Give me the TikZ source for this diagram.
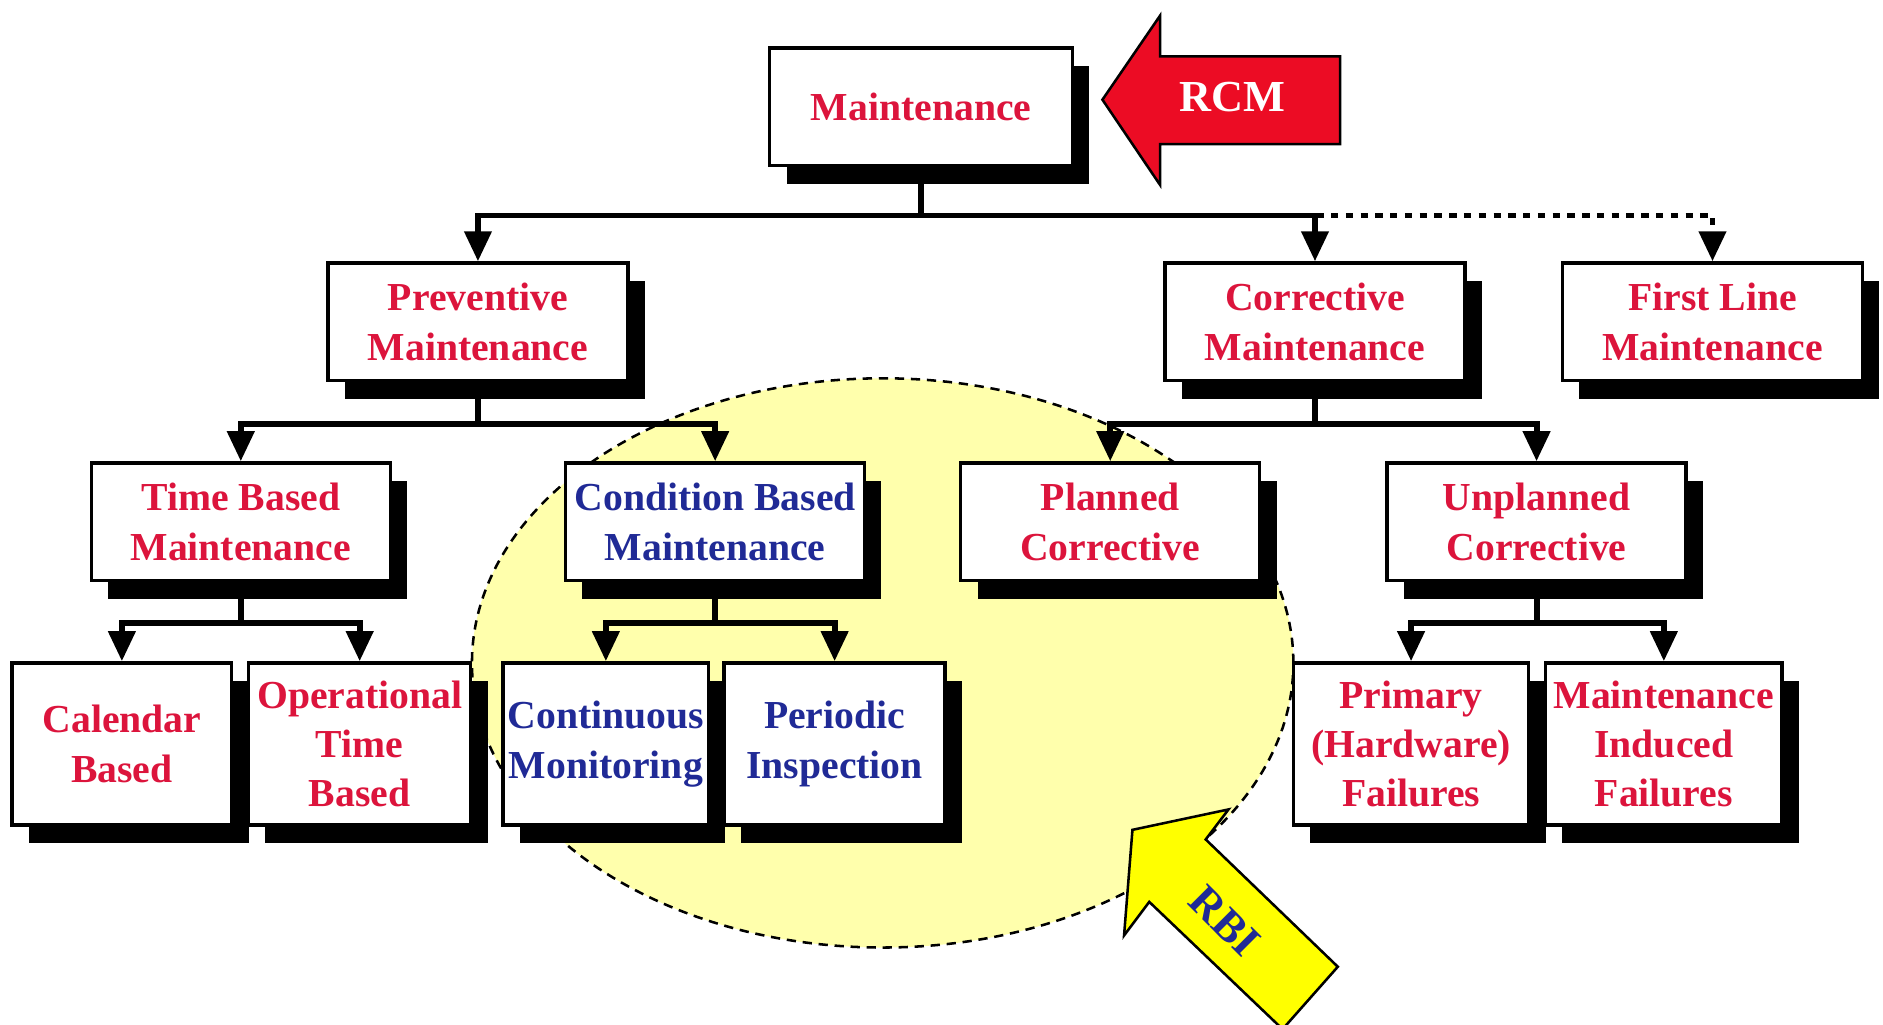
\documentclass[tikz,border=0pt]{standalone}
\usepackage{fontspec}
\setmainfont{Liberation Serif}
\usepackage{tikz}
\usetikzlibrary{arrows.meta, shadows}

\definecolor{maintred}{RGB}{220,20,60}
\definecolor{condblue}{RGB}{32,42,150}
\definecolor{rcmred}{RGB}{236,12,36}
\definecolor{rbiyellow}{RGB}{255,255,0}
\definecolor{zonefill}{RGB}{255,255,172}

\tikzset{
	mbox/.style={draw, line width=0.8pt, fill=white, align=center, inner sep=1pt,
		font=\bfseries\fontsize{9.4}{11.7}\selectfont, text=maintred,
		general shadow={fill=black, shadow xshift=0.14cm, shadow yshift=-0.15cm}},
	upper/.style={mbox, minimum width=2.50cm, minimum height=0.98cm},
	leaf/.style={mbox, minimum height=1.35cm},
	cbm/.style={text=condblue},
	link/.style={line width=1.4pt, -{Triangle[width=0.22cm, length=0.25cm]}},
	optional/.style={link, dash pattern=on 1.75pt off 1.75pt},
	bigarrow/.style={draw, line width=0.6pt, line join=miter},
	arrowlabel/.style={font=\bfseries\fontsize{10.5}{12}\selectfont, inner sep=0pt}
}

\begin{document}
\begin{tikzpicture}
	\useasboundingbox (0,0) rectangle (15.68,8.53);
	\clip (0,0) rectangle (15.68,8.53);
	% Zone, boxes, links and arrows:
	\draw[fill=zonefill, line width=0.6pt, dash pattern=on 2.2pt off 1.6pt] (7.35,3.01) ellipse [x radius=3.42, y radius=2.37];
	\node[upper, minimum width=2.52cm] (maint) at (7.67,7.64) {Maintenance};
	\node[upper] (prev) at (3.98,5.85) {Preventive\\Maintenance};
	\node[upper] (corr) at (10.95,5.85) {Corrective\\Maintenance};
	\node[upper] (first) at (14.26,5.85) {First Line\\Maintenance};
	\node[upper, minimum width=2.49cm] (time) at (2.005,4.185) {Time Based\\Maintenance};
	\node[upper, minimum width=2.49cm, cbm] (cond) at (5.955,4.185) {Condition Based\\Maintenance};
	\node[upper, minimum width=2.49cm] (plan) at (9.245,4.185) {Planned\\Corrective};
	\node[upper, minimum width=2.49cm] (unplan) at (12.795,4.185) {Unplanned\\Corrective};
	\node[leaf, minimum width=1.83cm] (cal) at (1.015,2.335) {Calendar\\Based};
	\node[leaf, minimum width=1.85cm] (oper) at (2.995,2.335) {Operational\\Time\\Based};
	\node[leaf, minimum width=1.71cm, cbm] (cont) at (5.045,2.335) {Continuous\\Monitoring};
	\node[leaf, minimum width=1.84cm, cbm] (peri) at (6.95,2.335) {Periodic\\Inspection};
	\node[leaf, minimum width=1.96cm] (prim) at (11.75,2.335) {Primary\\(Hardware)\\Failures};
	\node[leaf, minimum width=1.97cm] (induc) at (13.855,2.335) {Maintenance\\Induced\\Failures};
	\draw[link] (maint.south) -- ++(0,-0.40) -| (prev.north);
	\draw[link] (maint.south) -- ++(0,-0.40) -| (corr.north);
	\draw[optional] (maint.south) -- ++(0,-0.40) -| (first.north);
	\draw[link] (prev.south) -- ++(0,-0.35) -| (time.north);
	\draw[link] (prev.south) -- ++(0,-0.35) -| (cond.north);
	\draw[link] (corr.south) -- ++(0,-0.35) -| (plan.north);
	\draw[link] (corr.south) -- ++(0,-0.35) -| (unplan.north);
	\draw[link] (time.south) -- ++(0,-0.34) -| (cal.north);
	\draw[link] (time.south) -- ++(0,-0.34) -| (oper.north);
	\draw[link] (cond.south) -- ++(0,-0.34) -| (cont.north);
	\draw[link] (cond.south) -- ++(0,-0.34) -| (peri.north);
	\draw[link] (unplan.south) -- ++(0,-0.34) -| (prim.north);
	\draw[link] (unplan.south) -- ++(0,-0.34) -| (induc.north);
	\draw[bigarrow, fill=rcmred] (9.18,7.70) -- (9.66,8.40) -- (9.66,8.06) -- (11.16,8.06) -- (11.16,7.33) -- (9.66,7.33) -- (9.66,6.99) -- cycle;
	\node[arrowlabel, text=white] (rcm) at (10.26,7.72) {RCM};
	\draw[bigarrow, fill=rbiyellow] (9.43,1.62) -- (10.23,1.79) -- (10.04,1.54) -- (11.14,0.48) -- (10.68,-0.04) -- (9.57,1.02) -- (9.36,0.74) -- cycle;
	\node[arrowlabel, text=condblue, rotate=-45] (rbi) at (10.20,0.86) {RBI};
\end{tikzpicture}
\end{document}
